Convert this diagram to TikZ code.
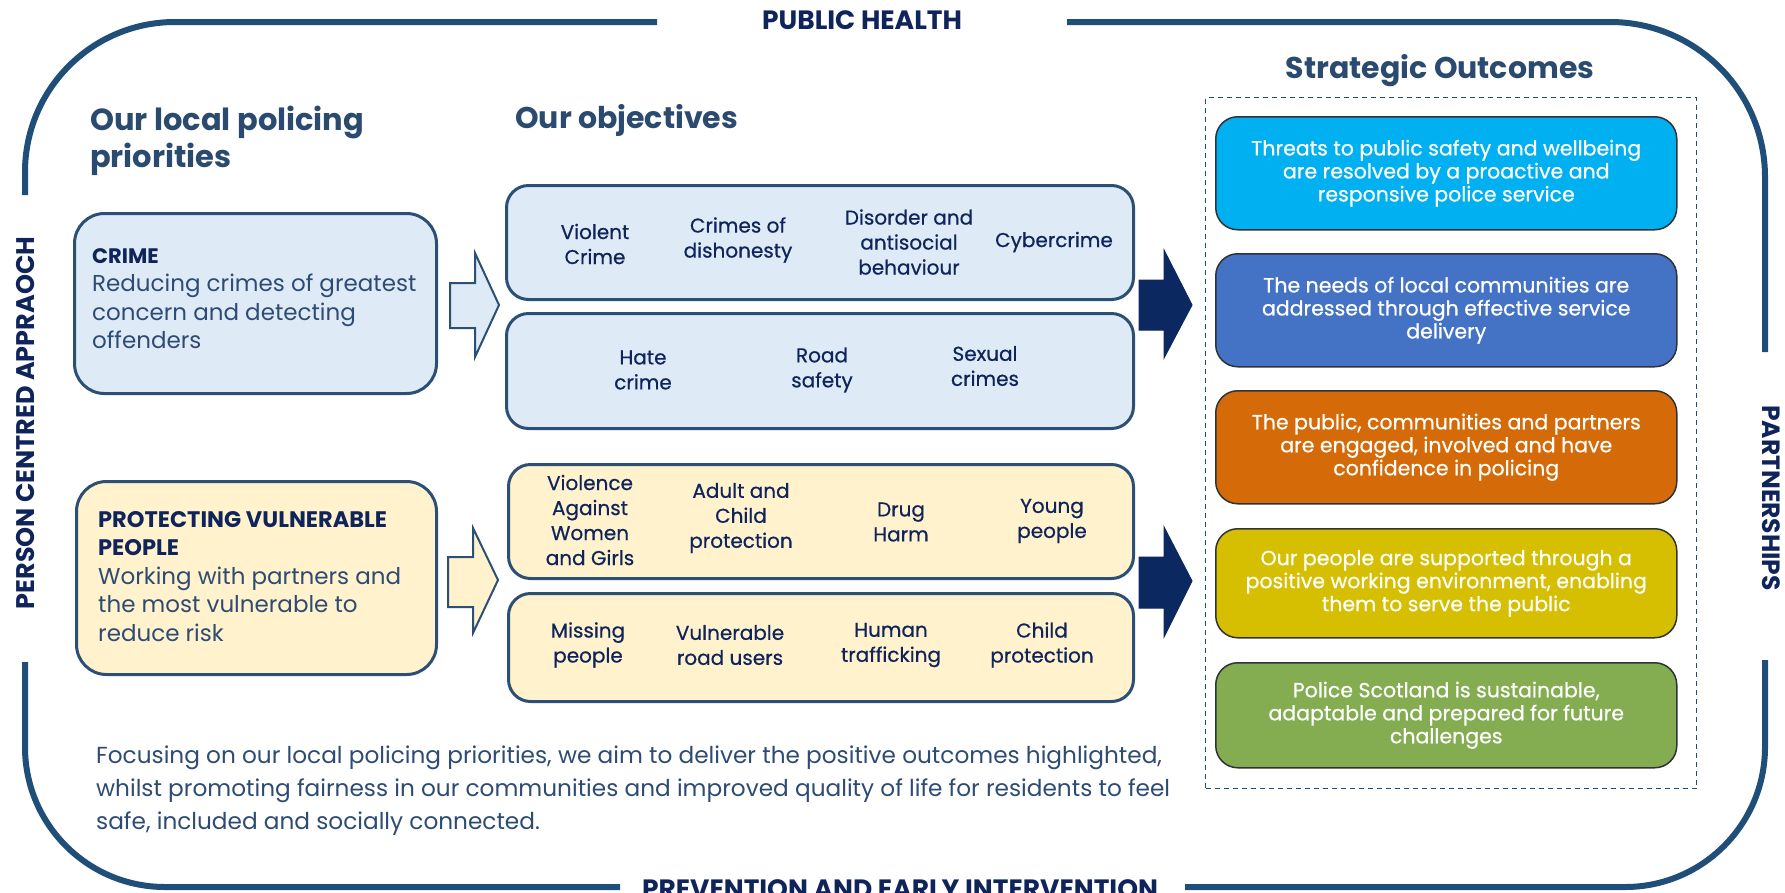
\documentclass[tikz,border=0pt]{standalone}
\usepackage{fontspec}
\setmainfont{Poppins}
\newfontfamily\medfont{Poppins}[FakeBold=0.6]
\newcommand\fsz[2]{\fontsize{#1}{#2}\selectfont}
\definecolor{framec}{HTML}{1F4E79}
\definecolor{navy}{HTML}{10245C}
\definecolor{headc}{HTML}{2A4A70}
\definecolor{descc}{HTML}{2E4C73}
\definecolor{boxborder}{HTML}{2C4F76}
\definecolor{lblue}{HTML}{DEEBF7}
\definecolor{cream}{HTML}{FFF2CC}
\definecolor{darrow}{HTML}{0B2860}
\definecolor{outborder}{HTML}{2F3338}
\definecolor{oA}{HTML}{00B0F0}
\definecolor{oB}{HTML}{4472C4}
\definecolor{oC}{HTML}{D46B08}
\definecolor{oD}{HTML}{D6BE00}
\definecolor{oE}{HTML}{84AC50}
\begin{document}
\begin{tikzpicture}[x=1pt,y=-1pt,
  frame/.style={draw=framec, line width=6pt},
  lbl/.style={text=navy, font=\fsz{26.5}{30}\bfseries, inner sep=0pt},
  head/.style={text=headc, font=\fsz{30.5}{37}\bfseries, inner sep=0pt, align=left},
  prio/.style={draw=boxborder, line width=3pt, rounded corners=30pt, anchor=north west},
  priotext/.style={anchor=north west, inner sep=0pt, align=left, text=descc, font=\fsz{23}{28.5}},
  objbox/.style={draw=boxborder, line width=3pt, rounded corners=22pt, anchor=north west, minimum width=627pt},
  obj/.style={text=navy, font=\medfont\fsz{20}{25}, align=center, inner sep=0pt},
  outbox/.style={draw=outborder, line width=1.5pt, rounded corners=22pt, anchor=north west, minimum width=461pt, text=white, font=\medfont\fsz{20.5}{23}, align=center},
  hollow/.style={draw=boxborder, line width=2pt, line join=miter},
  solidarrow/.style={fill=darrow, draw=darrow, line width=1pt, line join=miter}
]
\useasboundingbox (0,0) rectangle (1785,892);
\clip (0,0) rectangle (1785,892);
\fill[white] (0,0) rectangle (1785,892);

% outer frame
\draw[frame, rounded corners=150pt] (657,22) -- (25,22) -- (25,195);
\draw[frame, rounded corners=140pt] (25,662) -- (25,887) -- (620,887);
\draw[frame, rounded corners=140pt] (1185,887) -- (1765,887) -- (1765,660);
\draw[frame, rounded corners=155pt] (1765,352) -- (1765,22) -- (1067,22);

\node[lbl, anchor=base] (ph) at (862,29) {PUBLIC HEALTH};
\node[lbl, anchor=base] (pei) at (900,898) {PREVENTION AND EARLY INTERVENTION};
\node[lbl, font=\fsz{25.5}{28}\bfseries, rotate=90] (pca) at (26,423) {PERSON CENTRED APPRAOCH};
\node[lbl, font=\fsz{25}{28}\bfseries, rotate=-90] (pts) at (1771,498) {PARTNERSHIPS};

% headings
\node[head, anchor=north west] (h1) at (90,106) {Our local policing\\priorities};
\node[head, font=\fsz{30}{37}\bfseries, anchor=base west] (h2) at (515,128) {Our objectives};
\node[head, font=\fsz{30}{37}\bfseries, anchor=base] (h3) at (1440,78) {Strategic Outcomes};

% priority boxes
\node[prio, fill=lblue, minimum width=362pt, minimum height=180pt] (crime) at (73,212) {};
\node[priotext] (crimet) at (92,248) {{\fsz{21}{28.5}\bfseries\color{navy}CRIME}\\Reducing crimes of greatest\\concern and detecting\\offenders};
\node[prio, fill=cream, minimum width=360pt, minimum height=193pt] (pvp) at (75,480) {};
\node[priotext] (pvpt) at (98,511) {{\fsz{22.5}{28.5}\bfseries\color{navy}PROTECTING VULNERABLE}\\{\fsz{22.5}{28.5}\bfseries\color{navy}PEOPLE}\\Working with partners and\\the most vulnerable to\\reduce risk};

% hollow arrows
\draw[hollow, fill=lblue] (450,283) -- (475,283) -- (475,253) -- (499,305) -- (475,357) -- (475,328) -- (450,328) -- cycle;
\draw[hollow, fill=cream] (448,557) -- (473,557) -- (473,528) -- (498,580) -- (473,633) -- (473,607) -- (448,607) -- cycle;

% objective boxes
\node[objbox, fill=lblue, minimum height=114pt] (oa) at (505,184) {};
\node[objbox, fill=lblue, minimum height=115pt] (ob) at (505,312) {};
\node[objbox, fill=cream, minimum width=625pt, minimum height=114pt] (oc) at (507,463) {};
\node[objbox, fill=cream, minimum width=625pt, minimum height=108pt] (od) at (507,592) {};

\node[obj] (a1) at (595,244) {Violent\\Crime};
\node[obj] (a2) at (738,240) {Crimes of\\dishonesty};
\node[obj] (a3) at (909,242) {Disorder and\\antisocial\\behaviour};
\node[obj] (a4) at (1054,242) {Cybercrime};

\node[obj] (b1) at (643,370) {Hate\\crime};
\node[obj] (b2) at (822,370) {Road\\safety};
\node[obj] (b3) at (985,366) {Sexual\\crimes};

\node[obj] (c1) at (590,520) {Violence\\Against\\Women\\and Girls};
\node[obj] (c2) at (741,518) {Adult and\\Child\\protection};
\node[obj] (c3) at (901,522) {Drug\\Harm};
\node[obj] (c4) at (1052,521) {Young\\people};

\node[obj] (d1) at (588,645) {Missing\\people};
\node[obj] (d2) at (730,645) {Vulnerable\\road users};
\node[obj] (d3) at (891,645) {Human\\trafficking};
\node[obj] (d4) at (1042,645) {Child\\protection};

% solid arrows
\draw[solidarrow] (1139,280) -- (1164,280) -- (1164,250) -- (1192,305) -- (1164,358) -- (1164,330) -- (1139,330) -- cycle;
\draw[solidarrow] (1139,557) -- (1164,557) -- (1164,527) -- (1192,581) -- (1164,637) -- (1164,608) -- (1139,608) -- cycle;

% strategic outcomes
\node[draw=framec, line width=1.2pt, dash pattern=on 5pt off 4pt, anchor=north west, minimum width=491pt, minimum height=691pt] (sobox) at (1205,97) {};
\node[outbox, fill=oA, minimum height=113pt] (s1) at (1215,116) {Threats to public safety and wellbeing\\are resolved by a proactive and\\responsive police service};
\node[outbox, fill=oB, minimum height=113pt] (s2) at (1215,253) {The needs of local communities are\\addressed through effective service\\delivery};
\node[outbox, fill=oC, minimum height=113pt] (s3) at (1215,390) {The public, communities and partners\\are engaged, involved and have\\confidence in policing};
\node[outbox, fill=oD, minimum height=109pt] (s4) at (1215,528) {Our people are supported through a\\positive working environment, enabling\\them to serve the public};
\node[outbox, fill=oE, minimum height=105pt] (s5) at (1215,662) {Police Scotland is sustainable,\\adaptable and prepared for future\\challenges};

% bottom paragraph
\node[anchor=north west, inner sep=0pt, align=left, text=descc, font=\fsz{23.2}{33}] (para) at (96,746) {Focusing on our local policing priorities, we aim to deliver the positive outcomes highlighted,\\whilst promoting fairness in our communities and improved quality of life for residents to feel\\safe, included and socially connected.};
\end{tikzpicture}
\end{document}
